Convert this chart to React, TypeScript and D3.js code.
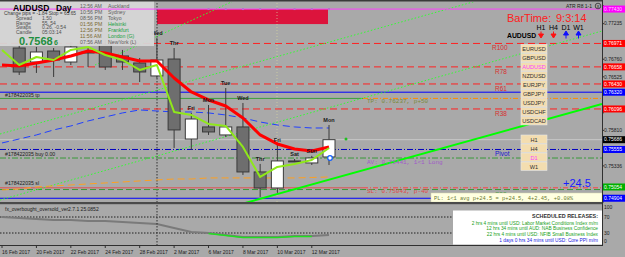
import React from 'react';
import * as d3 from 'd3';

// ---------- data ----------
const dates = ["16 Feb","17 Feb","20 Feb","21 Feb","22 Feb","23 Feb","24 Feb","27 Feb","28 Feb","1 Mar","2 Mar","3 Mar","6 Mar","7 Mar","8 Mar","9 Mar","10 Mar","11 Mar","12 Mar","13 Mar"];
const dayNames = ["","","","","","","","","","Wed","Thr","Fri","Mon","Tue","Wed","Thr","Fri","Sat","Sun","Mon"];
const opens  = [null,0.76910,0.76723,0.76870,0.76723,0.76857,0.76950,0.76804,0.76710,0.76537,0.76763,0.75695,0.75856,0.75749,0.75856,0.75255,0.75041,0.75402,0.75375,0.75455];
const highs  = [null,0.76950,0.76924,0.76910,0.76990,0.76924,0.77017,0.76884,0.76777,0.77044,0.76910,0.76043,0.76149,0.76376,0.76176,0.75362,0.75615,0.75428,0.75470,0.75882];
const lows   = [null,0.76550,0.76577,0.76523,0.76683,0.76657,0.76617,0.76617,0.76456,0.76510,0.75575,0.75549,0.75749,0.75722,0.75215,0.74921,0.74975,0.75388,0.75348,0.75348];
const closes = [null,0.76590,0.76857,0.76750,0.76924,0.76844,0.76657,0.76723,0.76590,0.76750,0.75816,0.75962,0.75789,0.75856,0.75255,0.75041,0.75402,0.75395,0.75442,0.75686];
const redMA    = [0.76683,0.76670,0.76710,0.76750,0.76804,0.76870,0.76844,0.76790,0.76737,0.76737,0.76510,0.76323,0.76216,0.76136,0.75976,0.75749,0.75629,0.75562,0.75535,0.75589];
const limeLine = [0.76884,0.76683,0.76790,0.76750,0.76884,0.76924,0.76817,0.76750,0.76617,0.76683,0.76056,0.76016,0.75896,0.75869,0.75589,0.75188,0.75322,0.75362,0.75415,0.75575];
const blueMA   = [0.75642,0.75695,0.75749,0.75816,0.75869,0.75936,0.75989,0.76043,0.76083,0.76069,0.76056,0.76056,0.76043,0.76016,0.75976,0.75922,0.75882,0.75856,0.75842,0.75842];
const orangeMA = [0.75015,0.75028,0.75055,0.75068,0.75081,0.75095,0.75108,0.75121,0.75135,0.75148,0.75161,0.75161,0.75175,0.75175,0.75175,0.75175,0.75175,0.75175,0.75181,0.75188];
const oscValues = [70,67.5,65,62.5,62.5,60,60,57.5,55,52.5,42.5,32.5,30,25,20,20,20,22.5,22.5,25.09];
const dateTickIdx = [0,2,4,6,8,10,12,14,16,18];
const dateTickLabels = ["16 Feb 2017","20 Feb 2017","22 Feb 2017","24 Feb 2017","28 Feb 2017","2 Mar 2017","6 Mar 2017","8 Mar 2017","10 Mar 2017","12 Mar 2017"];
const priceTicks = [0.77475,0.77235,0.76998,0.76760,0.76525,0.76285,0.76045,0.75810,0.75570,0.75336,0.75085,0.74855];
const oscTicks = [100,70,30,0];
const levelPrices = [0.77430,0.76971,0.76658,0.76430,0.76320,0.76096,0.75686,0.75555,0.75054,0.74904];
const levelKinds  = ["magenta","red","red","red","blue","red","black","blue","green","blue"];
const rLabels = ["R100","R78","R61","R38","Pivot","S38"];
const rPrices = [0.76971,0.76658,0.76430,0.76096,0.75555,0.75020];
const symbols = ["EURUSD","GBPUSD","AUDUSD","NZDUSD","EURJPY","GBPJPY","USDJPY","USDCHF","USDCAD"];
const tfButtons = ["H1","H4","D1","W1"];
const tfDir = [-1,-1,1,1];
const infoLabels = ["Spread","Range","Swaps","Candle"];
const infoValues = ["1.50","55, 54","0.26, -0.54","05:03:14"];
const clockTimes = ["12:56 AM","10:56 PM","08:56 PM","01:56 PM","12:56 PM","11:56 AM","07:56 AM"];
const clockCities = ["Auckland","Sydney","Tokyo","Helsinki","Frankfurt","London (G)","NewYork (L)"];
const releases = [
  "2 hrs 4 mins until USD: Labor Market Conditions Index m/m",
  "12 hrs 34 mins until AUD: NAB Business Confidence",
  "22 hrs 4 mins until USD: NFIB Small Business Index",
  "1 days 0 hrs 34 mins until USD: Core PPI m/m",
];
const tpPrice = 0.76237, avPrice = 0.75441, slPrice = 0.75043, s38Price = 0.75020;

// ---------- layout ----------
const W = 625, H = 257;
const PR = 602; // plot right
const x = d3.scaleLinear().domain([0, 19]).range([2, 329]);
const y = d3.scaleLinear().domain([0.74855, 0.77475]).range([201.9, 5.7]);
const yo = d3.scaleLinear().domain([0, 100]).range([245, 205]);
const SANS = "'Liberation Sans', Arial, sans-serif";
const MONO = "'Liberation Mono', 'Courier New', monospace";
const BG = "#a9a9a9";

const kindColor: Record<string, string> = { magenta: "#ff00ff", red: "#ff0000", blue: "#0000ff", black: "#000000", green: "#00b000" };

export default function App() {
  const idx = d3.range(dates.length);
  const line = (arr: number[]) => d3.line<number>().x((_, i) => x(i)).y(v => y(v))(arr) || "";
  const oscLine = d3.line<number>().x((_, i) => x(i)).y(v => yo(v));
  const oscGreenIdx = idx.filter(i => i >= 12 && i <= 18);
  const visibleTicks = priceTicks.filter(p => levelPrices.every(l => Math.abs(y(l) - y(p)) > 6.5));
  const hl = (p: number, x0: number, x1: number, color: string, dash?: string, w = 1) => (
    <line x1={x0} x2={x1} y1={y(p)} y2={y(p)} stroke={color} strokeWidth={w} strokeDasharray={dash} />
  );
  return (
    <svg width={W} height={H} style={{ position: "fixed", left: 0, top: 0, background: BG }} fontFamily={SANS}>
      <defs>
        <clipPath id="main"><rect x={0} y={2} width={PR} height={200} /></clipPath>
        <clipPath id="osc"><rect x={0} y={205} width={PR} height={40} /></clipPath>
      </defs>
      <rect width={W} height={H} fill={BG} />
      <g clipPath="url(#main)">
        <rect x={157} y={y(0.77430)} width={171} height={15} fill="#dc143c" />
        <line x1={157} x2={157} y1={0} y2={245} stroke="#303030" strokeDasharray="1.5,1.5" />
        <line x1={277} x2={277} y1={0} y2={245} stroke="#d8d8a0" strokeDasharray="1,2" opacity={0.7} />
        {[0.76971, 0.76658, 0.76430, 0.76096].map((p, i) => <g key={i}>{hl(p, 0, PR, "#ff2020", "7,4")}</g>)}
        {hl(0.76320, 0, PR, "#0000ff")}
        {hl(tpPrice, 0, 363, "#3da03d")}
        {hl(tpPrice, 363, PR, "#ff8c00", "5,2,1,2")}
        {hl(0.75686, 0, PR, "#c8c8c8")}
        {hl(0.75555, 0, PR, "#0000c0", "6,2,1,2")}
        {hl(avPrice, 0, PR, "#3a9a3a", "6,2,2,2")}
        {hl(slPrice, 0, 363, "#e05050")}
        {hl(slPrice, 363, PR, "#ff4040", "5,2,1,2")}
        {hl(s38Price, 0, PR, "#3a9a3a", "6,3")}
        {hl(0.74904, 0, PR, "#0000ff", undefined, 1.2)}
        <line x1={95} y1={65} x2={240} y2={-2} stroke="#30ff30" strokeDasharray="1.5,2" />
        <line x1={0} y1={134} x2={480} y2={0} stroke="#30ff30" strokeDasharray="1.5,2" />
        <line x1={0} y1={200} x2={PR} y2={31} stroke="#30ff30" strokeDasharray="1.5,2" />
        <line x1={238} y1={205} x2={PR} y2={104} stroke="#00ff00" strokeWidth={2} />
        <path d={line(orangeMA)} fill="none" stroke="#ffa020" strokeDasharray="7,4" />
        <path d={line(blueMA)} fill="none" stroke="#2040ff" strokeDasharray="7,4" />
        {idx.map(i => {
          if (opens[i] == null) return null;
          const o = opens[i] as number, c = closes[i] as number;
          const bull = c >= o;
          const top = y(Math.max(o, c)), bot = y(Math.min(o, c));
          return (
            <g key={i}>
              <line x1={x(i)} x2={x(i)} y1={y(highs[i] as number)} y2={y(lows[i] as number)} stroke="#3a3a3a" />
              <rect x={x(i) - 6} y={top} width={12} height={Math.max(1, bot - top)} fill={bull ? "#ffffff" : "#6e6e6e"} stroke="#3a3a3a" />
            </g>
          );
        })}
        <path d={line(redMA)} fill="none" stroke="#ff0000" strokeWidth={3} strokeLinejoin="round" />
        <path d={line(limeLine)} fill="none" stroke="#8fe81a" strokeWidth={2} strokeLinejoin="round" />
        {idx.map(i => dayNames[i] ? (
          <text key={i} x={x(i)} y={y(highs[i] as number) - 3} fontSize={5.5} fontWeight="bold" textAnchor="middle" fill="#1a1a1a">{dayNames[i]}</text>
        ) : null)}
        <circle cx={x(19) + 1} cy={y(avPrice)} r={2.3} fill="#ffffff" stroke="#1060ff" strokeWidth={1.2} />
        <circle cx={346} cy={139} r={1.5} fill="#20c020" />
        <text x={5} y={y(tpPrice) - 1.5} fontSize={5.2} fill="#202020">#178422035 tp</text>
        <text x={5} y={y(avPrice) - 2} fontSize={5.2} fill="#202020">#178422035 buy 0.00</text>
        <text x={5} y={y(slPrice) - 3} fontSize={5.2} fill="#202020">#178422035 sl</text>
        <text x={367} y={y(tpPrice) + 5} fontSize={6} fontFamily={MONO} fill="#7a8a3a">TP: 0.76237, p+50</text>
        <text x={367} y={y(avPrice) + 6} fontSize={6} fontFamily={MONO} fill="#a05ac8">AV: 0.75441, 1&lt;1 Long</text>
        <text x={367} y={y(slPrice) + 5} fontSize={6} fontFamily={MONO} fill="#e04848">SL: 0.75043, p-40</text>
        {rLabels.map((l, i) => (
          <text key={l} x={l === "R100" ? 492 : 495} y={y(rPrices[i]) + 7} fontSize={6.5} fill={l === "Pivot" ? "#1515d0" : l === "S38" ? "#2a8a2a" : "#d83030"}>{l}</text>
        ))}
        <text x={563} y={187} fontSize={11} fill="#1a1aff">+24.5</text>
        {symbols.map((s, i) => (
          <g key={s}>
            <rect x={521} y={44.5 + i * 9} width={26} height={8.4} fill="#f3ddb0" stroke="#e8e8e8" strokeWidth={0.6} />
            <text x={534} y={51 + i * 9} fontSize={5.6} textAnchor="middle" fill={s === "AUDUSD" ? "#ff40ff" : "#303030"}>{s}</text>
          </g>
        ))}
        {tfButtons.map((s, i) => (
          <g key={s}>
            <rect x={521} y={135 + i * 9} width={26} height={8.4} fill="#f3ddb0" stroke="#e8e8e8" strokeWidth={0.6} />
            <text x={534} y={141.5 + i * 9} fontSize={5.6} textAnchor="middle" fill={s === "D1" ? "#ff40ff" : "#303030"}>{s}</text>
          </g>
        ))}
        <rect x={431} y={193} width={171} height={9} fill="#ffffe0" stroke="#d8d8b0" strokeWidth={0.5} />
        <text x={434} y={200} fontSize={5.4} fontFamily={MONO} fill="#6a7a30">PL: 1&lt;1 avg p+24.5 = p+24.5, 4+2.45, +0.08%</text>
        {d3.range(12, 20).map(i => <rect key={i} x={x(i) - 1} y={y(0.77430) - 1} width={2} height={2} fill="#8090a0" />)}
      </g>
      <rect x={0} y={0} width={154} height={46} fill="#d6d6d6" opacity={0.95} />
      {hl(0.77430, 0, PR, "#ff40ff", undefined, 1)}
      <text x={13} y={10.5} fontSize={8.5} fontWeight="bold" fill="#000">AUDUSD</text>
      <text x={56} y={10.5} fontSize={8.5} fontWeight="bold" fill="#000">Day</text>
      <text x={4} y={15} fontSize={4.8} fill="#404040">Change pips = -1.84  Stop = 63.65</text>
      {infoLabels.map((l, i) => (
        <g key={l}>
          <text x={16} y={19.6 + i * 4.9} fontSize={5} fill="#505050">{l}</text>
          <text x={42} y={19.6 + i * 4.9} fontSize={5} fill="#505050">{infoValues[i]}</text>
        </g>
      ))}
      <text x={19} y={44.5} fontSize={11} fontWeight="bold" fill="#1f8f3f">0.7568</text>
      <text x={54} y={44.5} fontSize={7} fontWeight="bold" fill="#1f8f3f">6</text>
      {clockTimes.map((t, i) => (
        <g key={t + i}>
          <text x={80} y={7.5 + i * 6} fontSize={5.2} fill={i >= 3 && i <= 5 ? "#7a6a30" : "#606060"}>{t}</text>
          <text x={108} y={7.5 + i * 6} fontSize={5.2} fill={i >= 3 && i <= 5 ? "#20a040" : "#606060"}>{clockCities[i]}</text>
        </g>
      ))}
      <text x={566} y={8} fontSize={5} fill="#202020">ATR R8 1-1</text>
      <circle cx={598} cy={6} r={2.8} fill="none" stroke="#202020" strokeWidth={0.7} />
      <text x={598} y={7.8} fontSize={5} textAnchor="middle" fill="#202020">x</text>
      <text x={507} y={22} fontSize={11} fill="#ff2020">BarTime:</text>
      <text x={556} y={22} fontSize={11} fill="#ff2020">9:3:14</text>
      {tfButtons.map((s, i) => (
        <g key={s}>
          <text x={541 + i * 12.5} y={30} fontSize={7} textAnchor="middle" fill="#000">{s}</text>
          <path d={tfDir[i] < 0
            ? `M${541 + i * 12.5 - 2.5},34 L${541 + i * 12.5 + 2.5},34 L${541 + i * 12.5},38 Z M${541 + i * 12.5},31.5 V35`
            : `M${541 + i * 12.5 - 2.5},35 L${541 + i * 12.5 + 2.5},35 L${541 + i * 12.5},31 Z M${541 + i * 12.5},34 V38.5`}
            fill={tfDir[i] < 0 ? "#ff1010" : "#1010ff"} stroke={tfDir[i] < 0 ? "#ff1010" : "#1010ff"} strokeWidth={1} />
        </g>
      ))}
      <text x={507} y={38} fontSize={6.8} fontWeight="bold" fill="#000">AUDUSD</text>

      <rect x={0} y={202} width={PR} height={2.2} fill="#4a4a4a" />
      <rect x={0} y={0} width={PR} height={1.5} fill="#3a3a3a" />
      <g clipPath="url(#osc)">
        <line x1={0} x2={PR} y1={yo(70)} y2={yo(70)} stroke="#202020" strokeDasharray="1.5,1.5" />
        <line x1={0} x2={PR} y1={yo(30)} y2={yo(30)} stroke="#202020" strokeDasharray="1.5,1.5" />
        <path d={oscLine(oscValues) || ""} fill="none" stroke="#7a7a7a" strokeWidth={2} />
        <path d={d3.line<number>().x(i => x(i)).y(i => yo(oscValues[i]) + 0.5)(oscGreenIdx) || ""} fill="none" stroke="#20e020" strokeWidth={1.6} />
        <line x1={157} x2={157} y1={205} y2={245} stroke="#303030" strokeDasharray="1.5,1.5" />
      </g>
      <text x={5} y={211} fontSize={5} fill="#202020">fx_overbought_oversold_ver2.7.1 25.0852</text>
      <rect x={453} y={210.5} width={149} height={34} fill="#ffffff" />
      <text x={598} y={217.5} fontSize={5.4} fontWeight="bold" textAnchor="end" fill="#303030">SCHEDULED RELEASES:</text>
      {releases.map((r, i) => (
        <text key={r} x={598} y={224.5 + i * 5.9} fontSize={4.8} textAnchor="end" fill={i === 3 ? "#2020e0" : "#20a020"}>{r}</text>
      ))}
      <line x1={PR + 0.5} x2={PR + 0.5} y1={0} y2={246} stroke="#303030" />
      <line x1={0} x2={PR} y1={245.5} y2={245.5} stroke="#303030" />
      {dateTickIdx.map((d, i) => (
        <g key={d}>
          <line x1={x(d)} x2={x(d)} y1={245} y2={248} stroke="#303030" />
          <text x={x(d)} y={253.5} fontSize={5} fill="#202020">{dateTickLabels[i]}</text>
        </g>
      ))}
      {priceTicks.map(p => (
        <line key={p} x1={PR} x2={PR + 2} y1={y(p)} y2={y(p)} stroke="#303030" />
      ))}
      {visibleTicks.map(p => (
        <text key={p} x={604} y={y(p) + 1.8} fontSize={5} fill="#202020">{p.toFixed(5)}</text>
      ))}
      {levelPrices.map((p, i) => (
        <g key={p}>
          <rect x={PR + 1} y={y(p) - 3.5} width={22} height={7} fill={kindColor[levelKinds[i]]} />
          <text x={604} y={y(p) + 1.8} fontSize={5} fill={levelKinds[i] === "magenta" ? "#ffd0ff" : "#ffffff"}>{p.toFixed(5)}</text>
        </g>
      ))}
      {oscTicks.map(v => (
        <text key={v} x={604} y={Math.min(243, Math.max(208.5, yo(v) + 1.8))} fontSize={5} fill="#202020">{v}</text>
      ))}
    </svg>
  );
}
